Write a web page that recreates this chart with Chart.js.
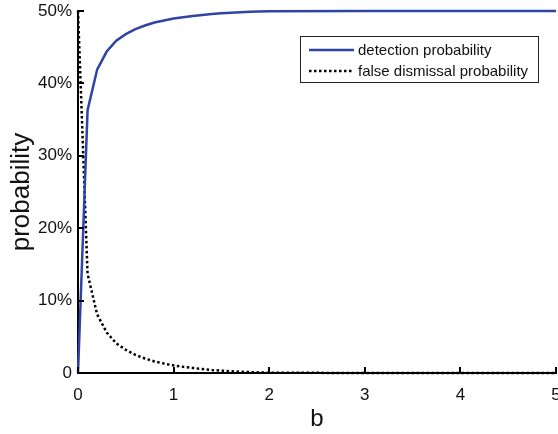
<!DOCTYPE html>
<html>
<head>
<meta charset="utf-8">
<script src="https://cdn.jsdelivr.net/npm/chart.js@4.4.1/dist/chart.umd.min.js"></script>
<style>
  html, body { margin: 0; padding: 0; background: #fff; }
  #wrap { width: 558px; height: 434px; position: relative; }
</style>
</head>
<body>
<div id="wrap"><canvas id="chart" width="558" height="434"></canvas></div>
<script>
const bValues = [0, 0.1, 0.2, 0.3, 0.4, 0.5, 0.6, 0.7, 0.8, 0.9, 1.0,
  1.1, 1.2, 1.3, 1.4, 1.5, 1.6, 1.7, 1.8, 1.9, 2.0, 3, 4, 5];
const detection = [0, 36.3, 41.9, 44.4, 45.9, 46.8, 47.5, 48.0, 48.4, 48.7, 48.95,
  49.15, 49.3, 49.45, 49.58, 49.68, 49.76, 49.83, 49.88, 49.92, 49.96, 50, 50, 50];
const falseDismissal = [50, 13.7, 8.1, 5.6, 4.1, 3.2, 2.5, 2.0, 1.6, 1.3, 1.05,
  0.85, 0.7, 0.55, 0.42, 0.32, 0.24, 0.17, 0.12, 0.08, 0.04, 0, 0, 0];
const xTicks = [0, 1, 2, 3, 4, 5];
const yTicks = [0, 10, 20, 30, 40, 50];

const BLUE = "#2f44a6";
const FONT = "'Liberation Sans', Arial, sans-serif";

function points(values) {
  return bValues.map((b, i) => ({ x: b, y: values[i] }));
}

// tick marks pointing into the plot
const innerTicks = {
  id: "innerTicks",
  afterDraw(chart) {
    const { ctx, chartArea, scales } = chart;
    ctx.save();
    ctx.strokeStyle = "#000";
    ctx.lineWidth = 2;
    ctx.beginPath();
    xTicks.forEach((v) => {
      const px = Math.round(scales.x.getPixelForValue(v));
      ctx.moveTo(px, chartArea.bottom);
      ctx.lineTo(px, chartArea.bottom - 6);
    });
    yTicks.forEach((v) => {
      const py = Math.round(scales.y.getPixelForValue(v));
      ctx.moveTo(chartArea.left, py);
      ctx.lineTo(chartArea.left + 6, py);
    });
    ctx.stroke();
    ctx.restore();
  },
};

// boxed legend in the top right corner
const boxLegend = {
  id: "boxLegend",
  afterDraw(chart) {
    const { ctx } = chart;
    const x = 300, y = 36, w = 238, h = 46;
    ctx.save();
    ctx.fillStyle = "#fff";
    ctx.fillRect(x, y, w, h);
    ctx.strokeStyle = "#222";
    ctx.lineWidth = 1;
    ctx.strokeRect(x + 0.5, y + 0.5, w, h);
    ctx.font = `15px ${FONT}`;
    ctx.textBaseline = "middle";
    chart.data.datasets.forEach((ds, i) => {
      const ry = y + 14 + i * 21;
      ctx.strokeStyle = ds.borderColor;
      ctx.lineWidth = ds.borderWidth;
      ctx.setLineDash(ds.borderDash || []);
      ctx.beginPath();
      ctx.moveTo(x + 9, ry);
      ctx.lineTo(x + 54, ry);
      ctx.stroke();
      ctx.setLineDash([]);
      ctx.fillStyle = "#111";
      ctx.fillText(ds.label, x + 58, ry + 1);
    });
    ctx.restore();
  },
};

new Chart(document.getElementById("chart"), {
  type: "line",
  data: {
    datasets: [
      {
        label: "detection probability",
        data: points(detection),
        borderColor: BLUE,
        borderWidth: 2.5,
        pointRadius: 0,
        tension: 0,
        clip: false,
      },
      {
        label: "false dismissal probability",
        data: points(falseDismissal),
        borderColor: "#000",
        borderWidth: 2.5,
        borderDash: [2.5, 2.5],
        pointRadius: 0,
        tension: 0,
        clip: false,
      },
    ],
  },
  options: {
    responsive: false,
    animation: false,
    layout: { padding: { top: 11, right: 2, left: 0, bottom: 0 } },
    plugins: {
      legend: { display: false },
      tooltip: { enabled: false },
    },
    scales: {
      x: {
        type: "linear",
        min: 0,
        max: 5,
        afterBuildTicks: (scale) => { scale.ticks = xTicks.map((v) => ({ value: v })); },
        afterFit: (scale) => {
          scale.height = 61;
          scale.paddingLeft = 0;
          scale.paddingRight = 0;
        },
        grid: { display: false, drawTicks: false },
        border: { display: true, color: "#000", width: 2 },
        ticks: { color: "#111", font: { family: FONT, size: 17 }, padding: 12, maxRotation: 0 },
        title: {
          display: true,
          text: "b",
          color: "#111",
          font: { family: FONT, size: 24 },
          padding: { top: 0, bottom: 0 },
        },
      },
      y: {
        min: 0,
        max: 50,
        afterBuildTicks: (scale) => { scale.ticks = yTicks.map((v) => ({ value: v })); },
        afterFit: (scale) => {
          scale.width = 78;
          scale.paddingTop = 0;
          scale.paddingBottom = 0;
        },
        grid: { display: false, drawTicks: false },
        border: { display: true, color: "#000", width: 2 },
        ticks: {
          color: "#111",
          font: { family: FONT, size: 17 },
          padding: 6,
          callback: (v) => (v === 0 ? "0" : `${v}%`),
        },
        title: {
          display: true,
          text: "probability",
          color: "#111",
          font: { family: FONT, size: 26 },
          padding: { top: 6, bottom: 0 },
        },
      },
    },
  },
  plugins: [innerTicks, boxLegend],
});
</script>
</body>
</html>
